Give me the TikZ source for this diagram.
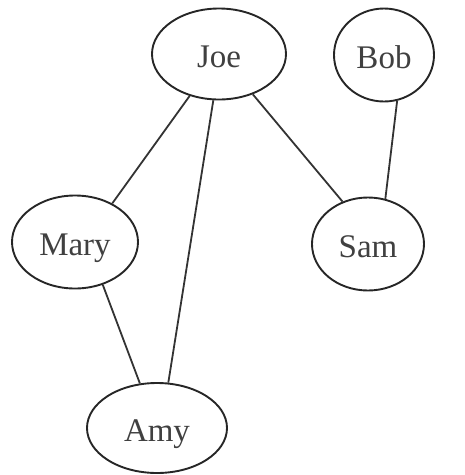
\documentclass[tikz,border=0pt]{standalone}
\usepackage{fontspec}
\setmainfont{Liberation Serif}
\usetikzlibrary{shapes.geometric}
\begin{document}
\begin{tikzpicture}[x=1pt,y=-1pt,
  person/.style={ellipse,draw=black!85,line width=1.9pt,inner sep=0pt,
    font=\fontsize{33}{33}\selectfont,text=black!75,
    text height=27pt,text depth=0pt},
  link/.style={draw=black!80,line width=1.8pt}]
  \useasboundingbox (0,0) rectangle (465,475);
  \node[person,minimum width=134pt,minimum height=91pt] (joe)  at (219,54)  {Joe};
  \node[person,minimum width=100pt,minimum height=93pt] (bob)  at (384,55)  {Bob};
  \node[person,minimum width=126pt,minimum height=93pt] (mary) at (75,242)  {Mary};
  \node[person,minimum width=112pt,minimum height=93pt] (sam)  at (368,244) {Sam};
  \node[person,minimum width=140pt,minimum height=90pt] (amy)  at (157,428) {Amy};
  \draw[link] (joe.-125) -- (mary.46);
  \draw[link] (joe.-97)  -- (amy.76);
  \draw[link] (joe.-50)  -- (sam.121);
  \draw[link] (bob.-74)  -- (sam.69);
  \draw[link] (mary.-57) -- (amy.111);
\end{tikzpicture}
\end{document}
